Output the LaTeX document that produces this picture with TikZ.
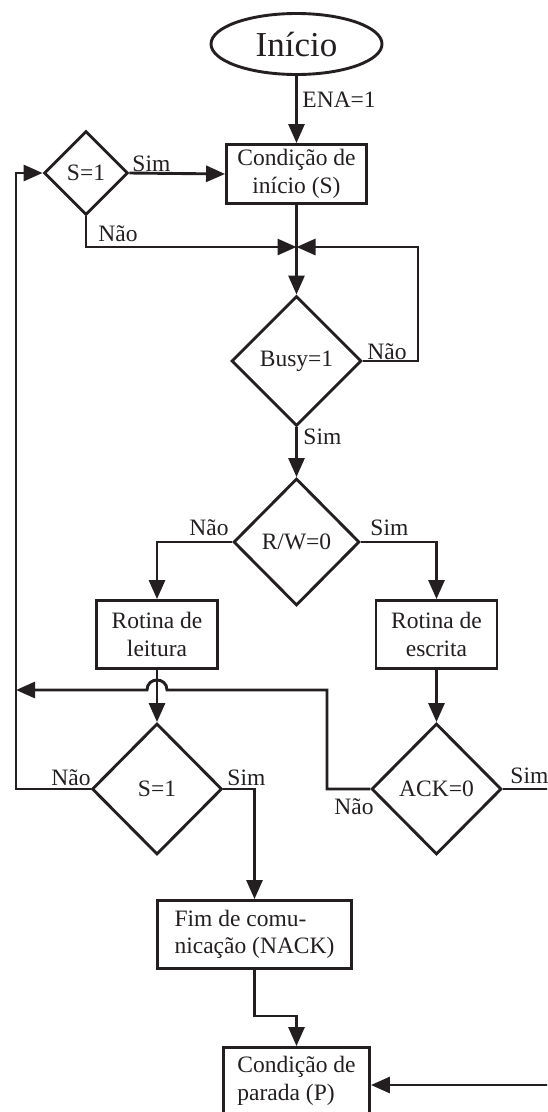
\documentclass[tikz,border=0pt]{standalone}
\usepackage{fontspec}
\setmainfont{Liberation Serif}
\usetikzlibrary{shapes.geometric,arrows.meta}
\definecolor{ink}{RGB}{35,31,32}
\begin{document}
\begin{tikzpicture}[x=1pt,y=-1pt,
  line width=2.9pt, color=ink,
  lbl/.style={font=\fontsize{23.5}{27}\selectfont, inner sep=0pt, anchor=base west},
  procbox/.style={draw, rectangle, inner sep=0pt, font=\fontsize{23.5}{27.5}\selectfont, align=center},
  decision/.style={draw, diamond, inner sep=0pt, font=\fontsize{23.5}{27}\selectfont},
  arr/.style={-{Triangle[length=19pt,width=16pt]}},
]
\clip (0,0) rectangle (547,1112);
% nodes
\node[draw, ellipse, minimum width=171pt, minimum height=61pt, inner sep=0pt, font=\fontsize{35}{40}\selectfont] (start) at (296.5,44) {Início};
\node[procbox, minimum width=140pt, minimum height=59pt] (c1) at (296.5,174) {Condição de\\início (S)};
\node[decision, minimum width=84pt, minimum height=84pt] (s1a) at (86,173) {S=1};
\coordinate (J) at (296.5,247);
\node[decision, minimum width=130pt, minimum height=130pt] (busy) at (296.5,361) {Busy=1};
\node[decision, minimum width=126pt, minimum height=127pt] (rw) at (296.5,542) {R/W=0};
\node[procbox, minimum width=121pt, minimum height=68pt] (rl) at (157,634.5) {Rotina de\\leitura};
\node[procbox, minimum width=121pt, minimum height=68pt] (re) at (436.5,634.5) {Rotina de\\escrita};
\node[decision, minimum width=130pt, minimum height=131pt] (s1b) at (157,789) {S=1};
\node[decision, minimum width=130pt, minimum height=131pt] (ack) at (436.5,789) {ACK=0};
\node[procbox, align=left, minimum width=194pt, minimum height=68pt] (fim) at (254.5,934.5) {Fim de comu-\\nicação (NACK)};
\node[procbox, align=left, minimum width=146pt, minimum height=67pt] (cp) at (296.5,1081) {Condição de\\parada (P)};
% helper coordinates
\coordinate (bR) at (418,361);
\coordinate (K) at (327,690);
\coordinate (H1) at (167,690);
\coordinate (H2) at (147,690);
\coordinate (HL) at (16,690);
\coordinate (L) at (16,173);
\coordinate (F1) at (254.5,1016);
\coordinate (AR) at (550,789);
\coordinate (R2) at (550,1085);
% connectors
\draw[arr] (start.south) -- (c1.north);
\draw[arr] (s1a.east) -- (c1.west);
\draw[arr] (s1a.south) |- (J);
\draw (c1.south) -- (J);
\draw[arr] (J) -- (busy.north);
\draw[arr] (busy.east) -- (bR) |- (J);
\draw[arr] (busy.south) -- (rw.north);
\draw[arr] (rw.west) -| (rl.north);
\draw[arr] (rw.east) -| (re.north);
\draw[arr] (rl.south) -- (s1b.north);
\draw[arr] (re.south) -- (ack.north);
\draw[arr] (ack.west) -| (K) -- (H1) .. controls (167,676.7) and (147,676.7) .. (H2) -- (HL);
\draw[arr] (s1b.west) -| (L) -- (s1a.west);
\draw[arr] (s1b.east) -| (fim.north);
\draw (ack.east) -- (AR);
\draw[arr] (fim.south) -- (F1) -| (cp.north);
\draw[arr] (R2) -- (R2 -| cp.east);
% labels
\node[lbl] (lena) at (301,107) {ENA=1};
\node[lbl] (lsim1) at (131,171) {Sim};
\node[lbl] (lnao1) at (97,241) {Não};
\node[lbl] (lnao2) at (366,359) {Não};
\node[lbl] (lsim2) at (302,444) {Sim};
\node[lbl] (lnao3) at (188,535) {Não};
\node[lbl] (lsim3) at (369,535) {Sim};
\node[lbl] (lnao4) at (50,785) {Não};
\node[lbl] (lsim4) at (226,785) {Sim};
\node[lbl] (lsim5) at (509,783) {Sim};
\node[lbl] (lnao5) at (333,814) {Não};
\end{tikzpicture}
\end{document}
